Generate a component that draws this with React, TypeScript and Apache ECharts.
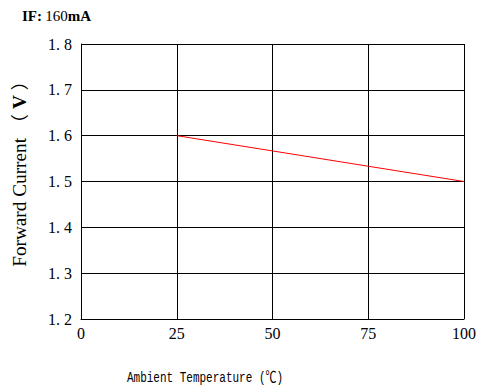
import React, { useEffect, useRef } from "react";
import * as echarts from "echarts";

const temps = [25, 50, 75, 100];
const voltages = [1.6, 1.5667, 1.5333, 1.5];
const xTicks = [0, 25, 50, 75, 100];
const yTicks = [1.2, 1.3, 1.4, 1.5, 1.6, 1.7, 1.8];

const SERIF = '"Liberation Serif", "DejaVu Serif", "Noto Sans CJK SC", serif';
const MONO = '"Liberation Mono", "DejaVu Sans Mono", "Noto Sans CJK SC", monospace';

export default function App() {
  const ref = useRef<HTMLDivElement>(null);
  useEffect(() => {
    if (!ref.current) return;
    const chart = echarts.init(ref.current, undefined, { renderer: "svg" });
    chart.setOption({
      animation: false,
      backgroundColor: "#ffffff",
      grid: { left: 81, right: 18, top: 44, bottom: 73, containLabel: false },
      xAxis: {
        type: "value",
        min: xTicks[0],
        max: xTicks[xTicks.length - 1],
        interval: 25,
        axisLine: { show: true, lineStyle: { color: "#000", width: 1 } },
        axisTick: { show: false },
        splitLine: { show: true, lineStyle: { color: "#000", width: 1 } },
        axisLabel: { color: "#000", fontFamily: SERIF, fontSize: 16, margin: 6 },
      },
      yAxis: {
        type: "value",
        min: yTicks[0],
        max: yTicks[yTicks.length - 1],
        interval: 0.1,
        axisLine: { show: true, lineStyle: { color: "#000", width: 1 } },
        axisTick: { show: false },
        splitLine: { show: true, lineStyle: { color: "#000", width: 1 } },
        axisLabel: {
          color: "#000",
          fontFamily: SERIF,
          fontSize: 16,
          margin: 9,
          formatter: (v: number) => v.toFixed(1).replace(".", ". "),
        },
      },
      series: [
        {
          type: "line",
          data: temps.map((t, i) => [t, voltages[i]]),
          showSymbol: false,
          symbol: "none",
          lineStyle: { color: "#ff0000", width: 1 },
        },
      ],
      graphic: [
        {
          type: "text",
          x: 22,
          y: 16,
          style: {
            text: "{b|IF:} {n|160}{b|mA}",
            verticalAlign: "middle",
            rich: {
              b: { fontFamily: SERIF, fontSize: 15, fontWeight: "bold", fill: "#000" },
              n: { fontFamily: SERIF, fontSize: 15, fill: "#000" },
            },
          },
        },
        {
          type: "text",
          x: 205,
          y: 378,
          scaleY: 1.3,
          style: {
            text: "Ambient Temperature (℃)",
            fontFamily: MONO,
            fontSize: 11,
            fill: "#000",
            align: "center",
            verticalAlign: "middle",
          },
        },
        {
          type: "text",
          x: 20,
          y: 169,
          rotation: Math.PI / 2,
          scaleX: 1.07,
          style: {
            text: "Forward Current （ {b|V} ）",
            fontFamily: SERIF,
            fontSize: 18,
            fill: "#000",
            align: "center",
            verticalAlign: "middle",
            rich: {
              b: { fontFamily: SERIF, fontSize: 18, fontWeight: "bold", fill: "#000" },
            },
          },
        },
      ],
    });
    return () => chart.dispose();
  }, []);
  return (
    <div
      ref={ref}
      style={{ position: "absolute", left: 0, top: 0, width: 482, height: 392 }}
    />
  );
}
